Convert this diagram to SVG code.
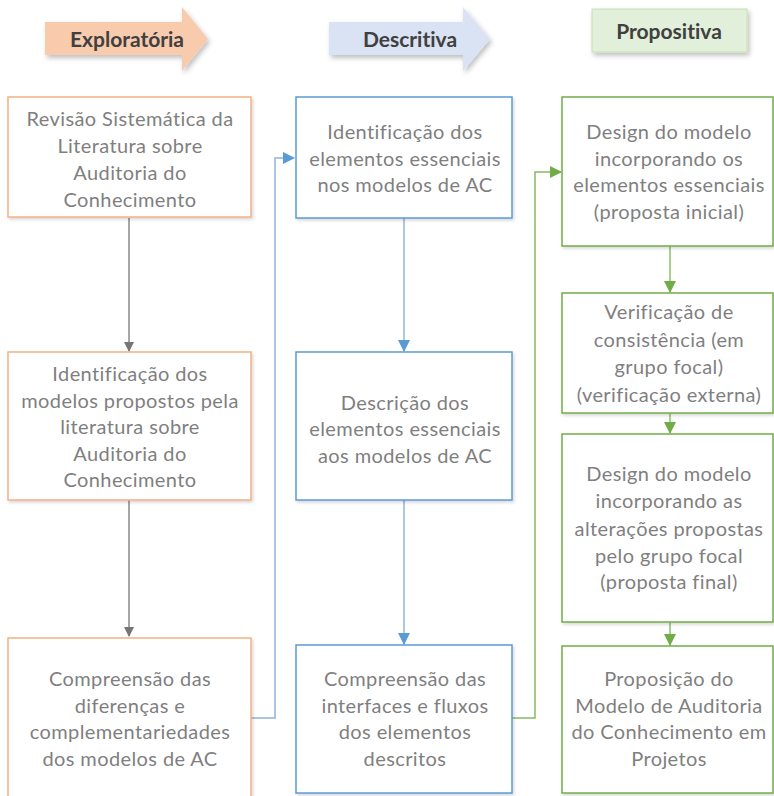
<svg xmlns="http://www.w3.org/2000/svg" width="774" height="796" viewBox="0 0 774 796">
<style>
.hdr{font-family:Lato,"Open Sans",sans-serif;font-weight:bold;font-size:21px;fill:#404040;text-anchor:middle;font-variant-ligatures:none}
.t{font-family:Lato,"Open Sans",sans-serif;font-size:20px;letter-spacing:0.4px;fill:#7f7f7f;text-anchor:middle;font-variant-ligatures:none}
.bo{fill:#fff;stroke:#f4b183;stroke-width:1.5}
.bb{fill:#fff;stroke:#5b9bd5;stroke-width:1.5}
.bg{fill:#fff;stroke:#70ad47;stroke-width:1.5}
.lgray{stroke:#a6a6a6;stroke-width:2;fill:none}
.lblue{stroke:#8fb4dc;stroke-width:1.5;fill:none}
.lgreen{stroke:#86bc62;stroke-width:1.5;fill:none}
.lgreen2{stroke:#a9d18e;stroke-width:2;fill:none}
</style>
<defs>
<filter id="sh" x="-10%" y="-10%" width="130%" height="140%">
<feDropShadow dx="2" dy="3" stdDeviation="2.5" flood-color="#000" flood-opacity="0.25"/>
</filter>
<filter id="shb" x="-5%" y="-5%" width="115%" height="115%">
<feDropShadow dx="1.5" dy="2" stdDeviation="1.5" flood-color="#000" flood-opacity="0.15"/>
</filter>
<marker id="ag" markerWidth="10" markerHeight="10" refX="9" refY="5" orient="auto" markerUnits="userSpaceOnUse"><path d="M0,0 L10,5 L0,10 z" fill="#767676"/></marker>
<marker id="ab" markerWidth="12" markerHeight="12" refX="11" refY="6" orient="auto" markerUnits="userSpaceOnUse"><path d="M0,0 L12,6 L0,12 z" fill="#5b9bd5"/></marker>
<marker id="agr" markerWidth="12" markerHeight="12" refX="11" refY="6" orient="auto" markerUnits="userSpaceOnUse"><path d="M0,0 L12,6 L0,12 z" fill="#70ad47"/></marker>
</defs>

<g id="hdr-exploratoria">
<path d="M45,22 H182 V7 L208,39 L182,71 V55 H45 Z" fill="#f8cbad" filter="url(#sh)"/>
<text class="hdr" x="127" y="47">Exploratória</text>
</g>
<g id="hdr-descritiva">
<path d="M329,22 H463 V7 L490,39 L463,71 V55 H329 Z" fill="#dae3f3" filter="url(#sh)"/>
<text class="hdr" x="410" y="47">Descritiva</text>
</g>
<g id="hdr-propositiva">
<rect x="592" y="9" width="155" height="43" fill="#e2efda" stroke="#c5e0b4" stroke-width="1" filter="url(#sh)"/>
<text class="hdr" x="669" y="39">Propositiva</text>
</g>

<g id="connectors">
<line class="lgray" x1="129" y1="218" x2="129" y2="351" marker-end="url(#ag)"/>
<line class="lgray" x1="129" y1="500" x2="129" y2="636" marker-end="url(#ag)"/>
<line class="lblue" x1="404" y1="218" x2="404" y2="351" marker-end="url(#ab)"/>
<line class="lblue" x1="404" y1="500" x2="404" y2="644" marker-end="url(#ab)"/>
<polyline class="lblue" points="251,718 275,718 275,158 294,158" marker-end="url(#ab)"/>
<polyline class="lgreen" points="512,718 535,718 535,172 561,172" marker-end="url(#agr)"/>
<line class="lgreen2" x1="670" y1="246" x2="670" y2="292" marker-end="url(#agr)"/>
<line class="lgreen2" x1="670" y1="413" x2="670" y2="433" marker-end="url(#agr)"/>
<line class="lgreen2" x1="670" y1="622" x2="670" y2="645" marker-end="url(#agr)"/>
</g>

<g id="a1">
<rect class="bo" x="8" y="97" width="243" height="120" filter="url(#shb)"/>
<text class="t" x="130"><tspan x="130" y="126">Revisão Sistemática da</tspan><tspan x="130" y="153">Literatura sobre</tspan><tspan x="130" y="180">Auditoria do</tspan><tspan x="130" y="207">Conhecimento</tspan></text>
</g>
<g id="a2">
<rect class="bo" x="8" y="352" width="243" height="148" filter="url(#shb)"/>
<text class="t" x="130"><tspan x="130" y="381">Identificação dos</tspan><tspan x="130" y="408">modelos propostos pela</tspan><tspan x="130" y="434">literatura sobre</tspan><tspan x="130" y="461">Auditoria do</tspan><tspan x="130" y="487">Conhecimento</tspan></text>
</g>
<g id="a3">
<rect class="bo" x="8" y="638" width="243" height="170" filter="url(#shb)"/>
<text class="t" x="130"><tspan x="130" y="686">Compreensão das</tspan><tspan x="130" y="713">diferenças e</tspan><tspan x="130" y="739">complementariedades</tspan><tspan x="130" y="766">dos modelos de AC</tspan></text>
</g>

<g id="b1">
<rect class="bb" x="296" y="97" width="216" height="121" filter="url(#shb)"/>
<text class="t" x="405"><tspan x="405" y="139">Identificação dos</tspan><tspan x="405" y="166">elementos essenciais</tspan><tspan x="405" y="192">nos modelos de AC</tspan></text>
</g>
<g id="b2">
<rect class="bb" x="296" y="352" width="216" height="148" filter="url(#shb)"/>
<text class="t" x="405"><tspan x="405" y="410">Descrição dos</tspan><tspan x="405" y="436">elementos essenciais</tspan><tspan x="405" y="463">aos modelos de AC</tspan></text>
</g>
<g id="b3">
<rect class="bb" x="296" y="645" width="216" height="148" filter="url(#shb)"/>
<text class="t" x="405"><tspan x="405" y="686">Compreensão das</tspan><tspan x="405" y="713">interfaces e fluxos</tspan><tspan x="405" y="739">dos elementos</tspan><tspan x="405" y="766">descritos</tspan></text>
</g>

<g id="c1">
<rect class="bg" x="562" y="97" width="211" height="149" filter="url(#shb)"/>
<text class="t" x="669"><tspan x="669" y="139">Design do modelo</tspan><tspan x="669" y="166">incorporando os</tspan><tspan x="669" y="192">elementos essenciais</tspan><tspan x="669" y="219">(proposta inicial)</tspan></text>
</g>
<g id="c2">
<rect class="bg" x="562" y="293" width="211" height="120" filter="url(#shb)"/>
<text class="t" x="669"><tspan x="669" y="319">Verificação de</tspan><tspan x="669" y="347">consistência (em</tspan><tspan x="669" y="374">grupo focal)</tspan><tspan x="669" y="402">(verificação externa)</tspan></text>
</g>
<g id="c3">
<rect class="bg" x="562" y="434" width="211" height="188" filter="url(#shb)"/>
<text class="t" x="669"><tspan x="669" y="481">Design do modelo</tspan><tspan x="669" y="508">incorporando as</tspan><tspan x="669" y="536">alterações propostas</tspan><tspan x="669" y="563">pelo grupo focal</tspan><tspan x="669" y="589">(proposta final)</tspan></text>
</g>
<g id="c4">
<rect class="bg" x="562" y="646" width="211" height="147" filter="url(#shb)"/>
<text class="t" x="669"><tspan x="669" y="686">Proposição do</tspan><tspan x="669" y="713">Modelo de Auditoria</tspan><tspan x="669" y="739">do Conhecimento em</tspan><tspan x="669" y="766">Projetos</tspan></text>
</g>
</svg>
